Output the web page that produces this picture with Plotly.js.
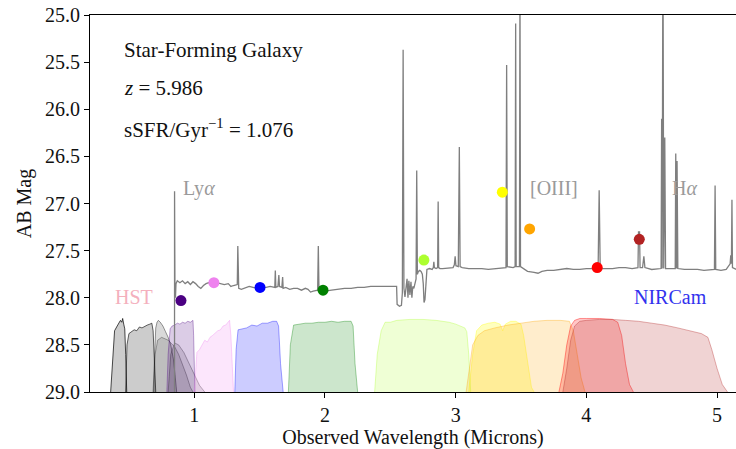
<!DOCTYPE html>
<html>
<head>
<meta charset="utf-8">
<script src="https://cdn.plot.ly/plotly-3.0.1.min.js"></script>
<style>html,body{margin:0;padding:0;background:#fff;}#chart{width:736px;height:449px;}</style>
</head>
<body>
<div id="chart"></div>
<script>
const specWave = [0.8485,0.849,0.852,0.856,0.860,0.87,0.89,0.91,0.93,0.95,0.97,0.99,1.01,1.03,1.05,1.07,1.09,1.11,1.14,1.17,1.20,1.23,1.26,1.28,1.30,1.32,1.329,1.333,1.337,1.34,1.36,1.38,1.40,1.42,1.45,1.48,1.51,1.55,1.58,1.60,1.616,1.62,1.624,1.64,1.647,1.652,1.67,1.676,1.68,1.70,1.73,1.76,1.79,1.82,1.85,1.87,1.89,1.91,1.93,1.944,1.949,1.954,1.97,2.0,2.05,2.1,2.15,2.2,2.25,2.3,2.35,2.4,2.45,2.5,2.548,2.552,2.57,2.585,2.592,2.598,2.604,2.612,2.62,2.628,2.635,2.642,2.65,2.658,2.665,2.672,2.680,2.69,2.697,2.702,2.707,2.715,2.725,2.735,2.745,2.752,2.758,2.765,2.772,2.78,2.80,2.82,2.829,2.833,2.837,2.85,2.862,2.866,2.870,2.88,2.9,2.95,2.98,2.99,2.996,3.002,3.02,3.028,3.034,3.05,3.1,3.15,3.2,3.25,3.3,3.35,3.385,3.39,3.395,3.44,3.455,3.459,3.463,3.488,3.492,3.496,3.52,3.55,3.6,3.63,3.66,3.7,3.75,3.8,3.85,3.9,3.95,4.0,4.05,4.09,4.098,4.106,4.15,4.2,4.25,4.3,4.35,4.395,4.399,4.407,4.411,4.43,4.44,4.448,4.5,4.55,4.572,4.576,4.58,4.586,4.592,4.600,4.606,4.62,4.68,4.684,4.690,4.694,4.700,4.75,4.8,4.85,4.9,4.95,4.98,4.985,4.99,5.03,5.07,5.1,5.105,5.11,5.114,5.118,5.15];
const specMag = [31.0,26.87,27.90,28.00,27.85,27.82,27.84,27.82,27.85,27.83,27.86,27.83,27.85,27.88,27.90,27.87,27.85,27.84,27.85,27.84,27.85,27.86,27.85,27.88,27.87,27.86,27.86,27.45,27.86,27.90,27.91,27.90,27.89,27.88,27.89,27.90,27.89,27.89,27.88,27.89,27.89,27.71,27.89,27.88,27.76,27.88,27.89,27.78,27.90,27.89,27.91,27.90,27.90,27.92,27.90,27.91,27.94,27.93,27.92,27.92,27.45,27.92,27.93,27.93,27.92,27.91,27.90,27.90,27.89,27.89,27.88,27.88,27.88,27.88,27.88,28.07,28.09,28.08,27.95,25.37,27.90,27.99,27.85,27.80,28.00,27.82,27.97,27.83,28.00,27.88,27.90,27.85,27.80,26.65,27.75,27.72,27.71,27.72,27.75,27.85,28.05,28.02,27.78,27.70,27.69,27.70,27.68,27.62,27.68,27.69,27.68,26.98,27.68,27.69,27.69,27.68,27.68,27.65,27.56,27.66,27.67,26.40,27.67,27.68,27.69,27.69,27.69,27.70,27.69,27.68,27.68,25.53,27.67,27.68,27.67,25.09,27.67,27.67,24.50,27.67,27.69,27.72,27.73,27.74,27.72,27.71,27.71,27.70,27.69,27.70,27.70,27.69,27.69,27.69,26.86,27.69,27.69,27.69,27.68,27.68,27.69,27.68,27.30,27.30,27.68,27.68,27.56,27.68,27.70,27.69,27.69,26.10,27.69,24.00,27.69,26.30,27.69,27.69,27.69,26.47,27.69,26.55,27.69,27.70,27.70,27.70,27.71,27.70,27.70,26.81,27.70,27.71,27.70,27.64,27.55,27.64,26.96,27.68,27.70];

const photWave = [0.898,1.150,1.503,1.985,2.757,3.357,3.566,4.083,4.405];
const photMag  = [28.03,27.84,27.89,27.92,27.60,26.88,27.27,27.68,27.38];
const photColor = ['#4b0082','#ee82ee','#0000ff','#008000','#adff2f','#ffff00','#ffa500','#ff0000','#b22222'];

const f435wX = [0.36,0.375,0.39,0.41,0.425,0.435,0.445,0.452,0.46,0.468,0.475,0.483];
const f435wY = [29.0,28.6,28.35,28.3,28.27,28.24,28.26,28.22,28.28,28.33,28.6,29.0];
const f606wX = [0.475,0.485,0.50,0.52,0.54,0.56,0.58,0.60,0.62,0.64,0.66,0.675,0.685,0.695,0.705];
const f606wY = [29.0,28.5,28.38,28.36,28.34,28.35,28.31,28.32,28.30,28.29,28.28,28.27,28.35,28.7,29.0];
const f775wX = [0.685,0.695,0.705,0.715,0.725,0.74,0.76,0.78,0.80,0.82,0.84,0.855,0.865];
const f775wY = [29.0,28.6,28.32,28.26,28.24,28.26,28.30,28.36,28.42,28.5,28.65,28.85,29.0];
const f814wX = [0.69,0.70,0.72,0.75,0.80,0.85,0.88,0.91,0.94,0.97,0.99];
const f814wY = [29.0,28.6,28.45,28.42,28.45,28.52,28.6,28.7,28.82,28.95,29.0];
const f850lpX = [0.80,0.82,0.85,0.88,0.92,0.96,1.00,1.04,1.08];
const f850lpY = [29.0,28.6,28.48,28.5,28.58,28.7,28.82,28.93,29.0];
const f090wX = [0.79,0.80,0.815,0.83,0.85,0.87,0.89,0.91,0.93,0.95,0.97,0.99,0.995,1.0,1.005];
const f090wY = [29.0,28.6,28.33,28.3,28.29,28.27,28.28,28.26,28.27,28.25,28.26,28.24,28.4,28.8,29.0];
const f115wX = [1.0,1.01,1.02,1.04,1.06,1.08,1.10,1.12,1.14,1.16,1.18,1.20,1.22,1.24,1.26,1.27,1.28,1.29,1.30];
const f115wY = [29.0,28.75,28.58,28.55,28.5,28.45,28.47,28.42,28.40,28.37,28.35,28.34,28.30,28.29,28.26,28.24,28.4,28.8,29.0];
const f150wX = [1.31,1.32,1.335,1.36,1.40,1.44,1.48,1.52,1.56,1.60,1.63,1.645,1.66,1.68];
const f150wY = [29.0,28.55,28.34,28.33,28.32,28.29,28.30,28.27,28.27,28.25,28.25,28.3,28.7,29.0];
const f200wX = [1.72,1.735,1.76,1.80,1.85,1.90,1.95,2.00,2.05,2.10,2.15,2.20,2.215,2.23,2.25];
const f200wY = [29.0,28.5,28.29,28.28,28.27,28.27,28.26,28.26,28.25,28.26,28.25,28.25,28.3,28.7,29.0];
const f277wX = [2.38,2.40,2.43,2.46,2.50,2.55,2.65,2.75,2.85,2.95,3.0,3.05,3.07,3.085,3.10,3.115];
const f277wY = [29.0,28.6,28.35,28.26,28.26,28.24,28.23,28.23,28.24,28.26,28.28,28.31,28.32,28.36,28.6,29.0];
const f335mX = [3.10,3.13,3.16,3.20,3.25,3.30,3.34,3.36,3.38,3.42,3.46,3.50,3.52,3.55,3.58,3.60];
const f335mY = [29.0,28.6,28.35,28.29,28.27,28.26,28.28,28.35,28.28,28.25,28.25,28.28,28.4,28.7,28.95,29.0];
const f356wX = [3.08,3.10,3.13,3.17,3.22,3.30,3.40,3.50,3.60,3.70,3.80,3.87,3.90,3.93,3.96,3.99];
const f356wY = [29.0,28.8,28.5,28.4,28.35,28.32,28.29,28.27,28.25,28.24,28.24,28.25,28.35,28.6,28.85,29.0];
const f410mX = [3.79,3.82,3.85,3.88,3.91,3.95,4.0,4.1,4.2,4.24,4.27,4.30,4.33,4.36];
const f410mY = [29.0,28.8,28.5,28.3,28.24,28.22,28.22,28.22,28.23,28.26,28.4,28.7,28.92,29.0];
const f444wX = [3.82,3.85,3.88,3.91,3.95,4.0,4.1,4.2,4.3,4.4,4.5,4.6,4.7,4.8,4.88,4.93,4.96,5.0,5.04,5.08];
const f444wY = [29.0,28.75,28.45,28.3,28.25,28.24,28.23,28.23,28.24,28.25,28.27,28.29,28.32,28.35,28.38,28.42,28.55,28.75,28.92,29.0];

const infoLines = ['Star-Forming Galaxy','<i>z</i> = 5.986','sSFR/Gyr<sup>−1</sup> = 1.076'];
const infoY = [25.37, 25.77, 26.20];
const lineLabels = ['Ly<i>α</i>','[OIII]','H<i>α</i>'];
const lineLabelX = [0.895,3.553,4.64];
const ticksX = [1,2,3,4,5];
const ticksY = [25.0,25.5,26.0,26.5,27.0,27.5,28.0,28.5,29.0];

const FONT = 'Liberation Serif, Tinos, Times New Roman, Times, FreeSerif, Noto Serif, DejaVu Serif, serif';

function filt(x, y, rgb, fa, la) {
  return {x: x, y: y, type: 'scatter', mode: 'lines', fill: 'toself',
    fillcolor: 'rgba(' + rgb + ',' + fa + ')',
    line: {color: 'rgba(' + rgb + ',' + la + ')', width: 1},
    hoverinfo: 'skip', showlegend: false};
}

const traces = [
  filt(f435wX, f435wY, '0,0,0', 0.2, 0.7),
  filt(f606wX, f606wY, '0,0,0', 0.2, 0.6),
  filt(f775wX, f775wY, '0,0,0', 0.15, 0.4),
  filt(f814wX, f814wY, '0,0,0', 0.12, 0.3),
  filt(f850lpX, f850lpY, '0,0,0', 0.12, 0.3),
  filt(f090wX, f090wY, '75,0,130', 0.2, 0.35),
  filt(f115wX, f115wY, '238,130,238', 0.2, 0.35),
  filt(f150wX, f150wY, '0,0,255', 0.2, 0.35),
  filt(f200wX, f200wY, '0,128,0', 0.2, 0.35),
  filt(f277wX, f277wY, '173,255,47', 0.2, 0.35),
  filt(f335mX, f335mY, '255,255,0', 0.25, 0.35),
  filt(f356wX, f356wY, '255,165,0', 0.2, 0.35),
  filt(f410mX, f410mY, '255,0,0', 0.22, 0.4),
  filt(f444wX, f444wY, '178,34,34', 0.2, 0.35),
  {x: specWave, y: specMag, type: 'scatter', mode: 'lines',
   line: {color: '#7f7f7f', width: 1.3}, hoverinfo: 'skip', showlegend: false},
  {x: photWave, y: photMag, type: 'scatter', mode: 'markers',
   marker: {color: photColor, size: 11, line: {width: 0}}, showlegend: false}
];

const annotations = [];
infoLines.forEach((t, i) => annotations.push({x: 0.447, y: infoY[i], xref: 'x', yref: 'y', text: t,
  showarrow: false, xanchor: 'left', yanchor: 'middle', font: {family: FONT, size: 21, color: '#111'}}));
lineLabels.forEach((t, i) => annotations.push({x: lineLabelX[i], y: 26.84, xref: 'x', yref: 'y', text: t,
  showarrow: false, xanchor: 'left', yanchor: 'middle', font: {family: FONT, size: 20, color: '#9a9a9a'}}));
annotations.push({x: 0.539, y: 27.99, xref: 'x', yref: 'y', text: 'HST', showarrow: false,
  xanchor: 'center', yanchor: 'middle', font: {family: FONT, size: 20, color: '#f4b0bd'}});
annotations.push({x: 4.64, y: 27.99, xref: 'x', yref: 'y', text: 'NIRCam', showarrow: false,
  xanchor: 'center', yanchor: 'middle', font: {family: FONT, size: 20, color: '#3232ee'}});

const layout = {
  width: 736, height: 449,
  margin: {l: 90, r: 0, t: 15, b: 57},
  paper_bgcolor: '#fff', plot_bgcolor: '#fff',
  showlegend: false,
  font: {family: FONT, size: 20, color: '#111'},
  xaxis: {range: [0.202, 5.145], tickvals: ticksX, ticktext: ticksX.map(String),
    ticks: 'outside', ticklen: 5, tickwidth: 1, tickcolor: '#000',
    showline: true, linecolor: '#000', linewidth: 1, mirror: true,
    showgrid: false, zeroline: false,
    tickfont: {family: FONT, size: 20, color: '#111'},
    title: {text: 'Observed Wavelength (Microns)', font: {family: FONT, size: 20, color: '#111'}, standoff: 4}},
  yaxis: {range: [29, 25], tickvals: ticksY, ticktext: ticksY.map(v => v.toFixed(1)),
    ticks: 'outside', ticklen: 5, tickwidth: 1, tickcolor: '#000',
    showline: true, linecolor: '#000', linewidth: 1, mirror: false,
    showgrid: false, zeroline: false,
    tickfont: {family: FONT, size: 20, color: '#111'},
    title: {text: 'AB Mag', font: {family: FONT, size: 20, color: '#111'}, standoff: 8}},
  annotations: annotations
};

Plotly.newPlot('chart', traces, layout, {displayModeBar: false, staticPlot: true});
</script>
</body>
</html>
